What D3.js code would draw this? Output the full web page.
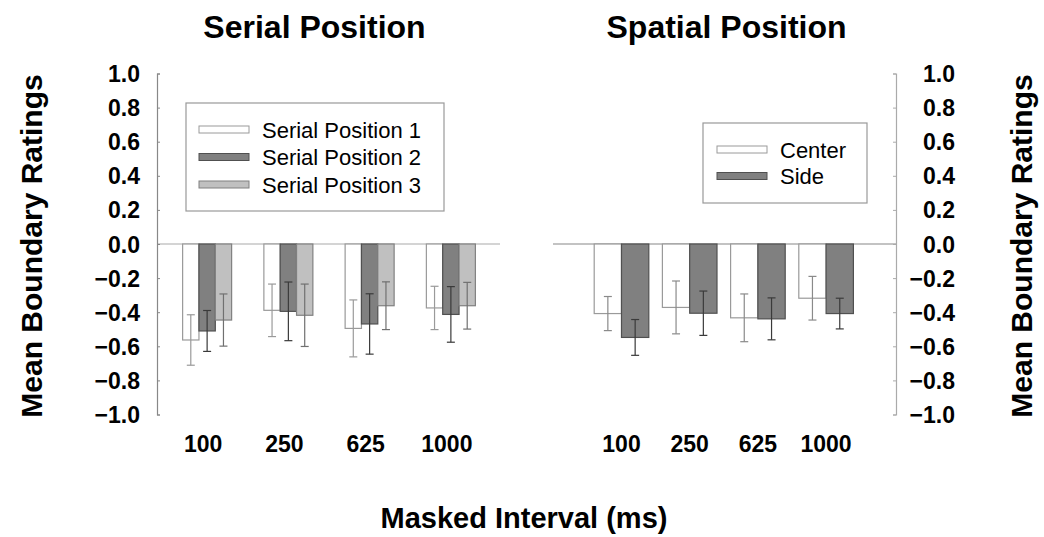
<!DOCTYPE html>
<html>
<head>
<meta charset="utf-8">
<script src="https://cdn.jsdelivr.net/npm/d3@7"></script>
<style>
  html, body { margin: 0; padding: 0; background: #fff; }
  svg { display: block; font-family: "Liberation Sans", Arial, sans-serif; }
</style>
</head>
<body>
<svg id="chart" width="1044" height="537"></svg>
<script>
// ---- data ----
const intervals = ["100", "250", "625", "1000"];
const yTicks = [-1.0, -0.8, -0.6, -0.4, -0.2, 0.0, 0.2, 0.4, 0.6, 0.8, 1.0];

const serialSeries = ["Serial Position 1", "Serial Position 2", "Serial Position 3"];
const serialMeans1 = [-0.563, -0.389, -0.495, -0.375];
const serialMeans2 = [-0.510, -0.395, -0.469, -0.413];
const serialMeans3 = [-0.446, -0.418, -0.362, -0.362];
const serialErr1 = [0.148, 0.154, 0.167, 0.127];
const serialErr2 = [0.120, 0.172, 0.177, 0.163];
const serialErr3 = [0.153, 0.183, 0.140, 0.137];

const spatialSeries = ["Center", "Side"];
const spatialMeansCenter = [-0.408, -0.372, -0.433, -0.318];
const spatialMeansSide = [-0.548, -0.406, -0.439, -0.408];
const spatialErrCenter = [0.100, 0.155, 0.140, 0.128];
const spatialErrSide = [0.105, 0.130, 0.123, 0.090];

// ---- styles ----
const styles = {
  "Serial Position 1": { fill: "#ffffff", stroke: "#9a9a9a", err: "#9a9a9a" },
  "Serial Position 2": { fill: "#808080", stroke: "#505050", err: "#3a3a3a" },
  "Serial Position 3": { fill: "#c0c0c0", stroke: "#808080", err: "#707070" },
  "Center": { fill: "#ffffff", stroke: "#9a9a9a", err: "#8a8a8a" },
  "Side": { fill: "#808080", stroke: "#505050", err: "#3a3a3a" }
};

const svg = d3.select("#chart");
const y = d3.scaleLinear().domain([-1, 1]).range([414.5, 73.5]);
const fmt = d3.format(".1f");

function panel(cfg) {
  const g = svg.append("g");
  const x0 = d3.scaleBand().domain(intervals).range(cfg.range).padding(0);
  const x1 = d3.scaleBand().domain(cfg.series).range([0, cfg.groupWidth]).padding(0);
  const off = (x0.bandwidth() - cfg.groupWidth) / 2;

  // zero line
  g.append("line")
    .attr("x1", cfg.zeroFrom).attr("x2", cfg.zeroTo)
    .attr("y1", y(0)).attr("y2", y(0))
    .attr("stroke", cfg.zeroColor).attr("stroke-width", 1.2);

  // y axis
  const axis = (cfg.side === "left" ? d3.axisLeft(y) : d3.axisRight(y))
    .tickValues(yTicks).tickFormat(fmt).tickSizeInner(-3).tickSizeOuter(-3).tickPadding(0);
  const ax = g.append("g").attr("transform", `translate(${cfg.axisX},0)`).call(axis);
  ax.selectAll("path").attr("stroke", cfg.axisColor).attr("stroke-width", 1.2);
  ax.selectAll(".tick line").attr("stroke", cfg.axisColor);
  ax.selectAll(".tick text").remove();
  // tick labels
  g.selectAll("text.ylab").data(yTicks).join("text")
    .attr("class", "ylab")
    .attr("x", cfg.labelX).attr("y", d => y(d))
    .attr("dy", "0.37em")
    .attr("text-anchor", "end")
    .attr("font-size", 23).attr("font-weight", "bold").attr("fill", "#000")
    .text(d => fmt(d));

  // bars
  cfg.series.forEach((s, si) => {
    const st = styles[s];
    const means = cfg.means[si];
    intervals.forEach((iv, i) => {
      const bx = x0(iv) + off + x1(s);
      const v = means[i];
      g.append("rect")
        .attr("x", bx).attr("y", y(0))
        .attr("width", x1.bandwidth()).attr("height", y(v) - y(0))
        .attr("fill", st.fill).attr("stroke", st.stroke).attr("stroke-width", 1.2);
    });
  });
  // error bars
  cfg.series.forEach((s, si) => {
    const st = styles[s];
    const means = cfg.means[si], errs = cfg.errs[si];
    intervals.forEach((iv, i) => {
      const cx = x0(iv) + off + x1(s) + x1.bandwidth() / 2;
      const top = y(means[i] + errs[i]), bot = y(means[i] - errs[i]);
      const eg = g.append("g").attr("stroke", st.err).attr("stroke-width", 1.2);
      eg.append("line").attr("x1", cx).attr("x2", cx).attr("y1", top).attr("y2", bot);
      eg.append("line").attr("x1", cx - 4).attr("x2", cx + 4).attr("y1", top).attr("y2", top);
      eg.append("line").attr("x1", cx - 4).attr("x2", cx + 4).attr("y1", bot).attr("y2", bot);
    });
  });

  // x labels
  g.selectAll("text.xlab").data(intervals).join("text")
    .attr("class", "xlab")
    .attr("x", d => x0(d) + x0.bandwidth() / 2 + cfg.labelShift)
    .attr("y", 452)
    .attr("text-anchor", "middle")
    .attr("font-size", 23).attr("font-weight", "bold")
    .text(d => d);

  // title
  g.append("text").attr("x", cfg.titleX).attr("y", 38)
    .attr("text-anchor", "middle").attr("font-size", 32).attr("font-weight", "bold")
    .text(cfg.title);

  // legend
  const L = cfg.legend;
  g.append("rect").attr("x", L.x).attr("y", L.y).attr("width", L.w).attr("height", L.h)
    .attr("fill", "#fff").attr("stroke", "#999").attr("stroke-width", 1.2);
  cfg.series.forEach((s, si) => {
    const st = styles[s];
    const cy = L.firstY + si * L.step;
    g.append("rect").attr("x", L.swX).attr("y", cy - 3.5).attr("width", 50).attr("height", 7)
      .attr("fill", st.fill).attr("stroke", st.stroke).attr("stroke-width", 1);
    g.append("text").attr("x", L.swX + 63).attr("y", cy + 8)
      .attr("font-size", 22).text(s);
  });
}

panel({
  side: "left", axisX: 157, labelX: 140, axisColor: "#888",
  range: [166.5, 491.5], groupWidth: 49, labelShift: -4,
  zeroFrom: 157, zeroTo: 500, zeroColor: "#aaa",
  series: serialSeries,
  means: [serialMeans1, serialMeans2, serialMeans3],
  errs: [serialErr1, serialErr2, serialErr3],
  title: "Serial Position", titleX: 314.5,
  legend: { x: 186, y: 103, w: 258, h: 108, swX: 199, firstY: 129.5, step: 27.5 }
});

panel({
  side: "right", axisX: 896, labelX: 955, axisColor: "#aaa",
  range: [587.4, 860.2], groupWidth: 54.6, labelShift: 0,
  zeroFrom: 553, zeroTo: 896, zeroColor: "#888",
  series: spatialSeries,
  means: [spatialMeansCenter, spatialMeansSide],
  errs: [spatialErrCenter, spatialErrSide],
  title: "Spatial Position", titleX: 726.5,
  legend: { x: 703, y: 123, w: 164, h: 80, swX: 717, firstY: 149.5, step: 26.5 }
});

// axis titles
svg.append("text").attr("transform", "translate(42,246) rotate(-90)")
  .attr("text-anchor", "middle").attr("font-size", 30).attr("font-weight", "bold")
  .text("Mean Boundary Ratings");
svg.append("text").attr("transform", "translate(1032,246) rotate(-90)")
  .attr("text-anchor", "middle").attr("font-size", 30).attr("font-weight", "bold")
  .text("Mean Boundary Ratings");
svg.append("text").attr("x", 524).attr("y", 528)
  .attr("text-anchor", "middle").attr("font-size", 29).attr("font-weight", "bold")
  .text("Masked Interval (ms)");
</script>
</body>
</html>
